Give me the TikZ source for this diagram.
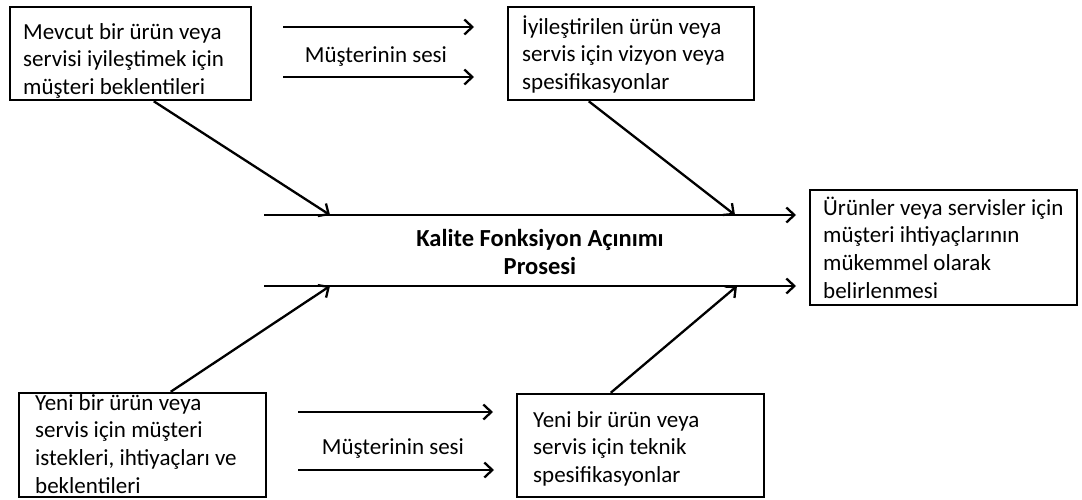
\documentclass[tikz,border=0pt]{standalone}
\usepackage{fontspec}
\setmainfont{Carlito}
\usetikzlibrary{arrows.meta}

\tikzset{
  boxframe/.style={draw=black, line width=2.5pt, rectangle, inner sep=0pt},
  boxtext/.style={anchor=base west, inner sep=0pt, align=left, text=black,
    font=\fontsize{23}{27.7}\selectfont},
  flow/.style={draw=black, line width=2.3pt,
    -{Straight Barb[length=8pt,width=15pt,line width=2.3pt]}},
  voice/.style={inner sep=0pt, anchor=base, text=black,
    font=\fontsize{23}{27.7}\selectfont},
  titletext/.style={inner sep=0pt, align=center, text=black,
    font=\fontsize{24.5}{28}\selectfont\bfseries}
}

\begin{document}
\begin{tikzpicture}[x=1pt, y=-1pt]
\useasboundingbox (0,0) rectangle (1082,499);
\clip (0,0) rectangle (1082,499);
\fill[white] (0,0) rectangle (1082,499);

% frames
\draw[boxframe] (10,7) rectangle (251,100);
\node[boxframe, draw=none, minimum width=241pt, minimum height=93pt] (b1) at (130.5,53.5) {};
\draw[boxframe] (508,7) rectangle (754,100);
\node[boxframe, draw=none, minimum width=246pt, minimum height=93pt] (b2) at (631,53.5) {};
\draw[boxframe] (810,190) rectangle (1077,305);
\node[boxframe, draw=none, minimum width=267pt, minimum height=115pt] (b3) at (943.5,247.5) {};
\draw[boxframe] (19,393) rectangle (266,497);
\node[boxframe, draw=none, minimum width=247pt, minimum height=104pt] (b4) at (142.5,445) {};
\draw[boxframe] (517,394) rectangle (764,497);
\node[boxframe, draw=none, minimum width=247pt, minimum height=103pt] (b5) at (640.5,445.5) {};

% box texts (anchored at the baseline of their last line)
\node[boxtext] (t1) at (23,94.4) {Mevcut bir ürün veya\\servisi iyileştimek için\\müşteri beklentileri};
\node[boxtext] (t2) at (522,89.4) {İyileştirilen ürün veya\\servis için vizyon veya\\spesifikasyonlar};
\node[boxtext] (t3) at (823,298.1) {Ürünler veya servisler için\\müşteri ihtiyaçlarının\\mükemmel olarak\\belirlenmesi};
\node[boxtext] (t4) at (35,493.1) {Yeni bir ürün veya\\servis için müşteri\\istekleri, ihtiyaçları ve\\beklentileri};
\node[boxtext] (t5) at (533,482.4) {Yeni bir ürün veya\\servis için teknik\\spesifikasyonlar};

% process title
\node[titletext] (title) at (540,252) {Kalite Fonksiyon Açınımı\\Prosesi};

% voice of the customer labels
\node[voice] (v1) at (376,62) {Müşterinin sesi};
\node[voice] (v2) at (393,454) {Müşterinin sesi};

% main process lines
\coordinate (ms1) at (264,215);
\coordinate (me1) at (796,215);
\coordinate (ms2) at (264,286);
\coordinate (me2) at (796,286);
\draw[flow] (ms1) -- (me1);
\draw[flow] (ms2) -- (me2);

% junctions on the main lines
\coordinate (j1) at (330,215);
\coordinate (j2) at (735,215);
\coordinate (j3) at (330,286);
\coordinate (j4) at (737,286);
\draw[flow] ([xshift=145pt]b1.south west) -- (j1);
\draw[flow] ([xshift=82pt]b2.south west) -- (j2);
\draw[flow] ([xshift=153pt]b4.north west) -- (j3);
\draw[flow] ([xshift=95pt]b5.north west) -- (j4);

% voice arrows
\coordinate (va1) at (283,27);  \coordinate (vb1) at (474,27);
\coordinate (va2) at (283,77);  \coordinate (vb2) at (474,77);
\coordinate (va3) at (298,412); \coordinate (vb3) at (493,412);
\coordinate (va4) at (298,470); \coordinate (vb4) at (494,470);
\draw[flow] (va1) -- (vb1);
\draw[flow] (va2) -- (vb2);
\draw[flow] (va3) -- (vb3);
\draw[flow] (va4) -- (vb4);
\end{tikzpicture}
\end{document}
